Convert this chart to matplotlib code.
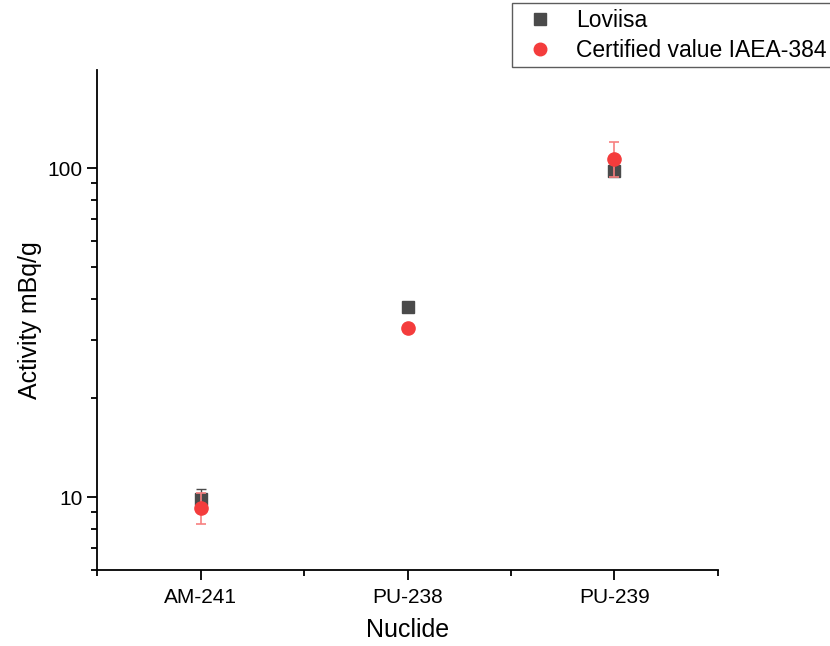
import numpy as np
import matplotlib
matplotlib.use('Agg')
import matplotlib.pyplot as plt
from matplotlib.ticker import FixedLocator, LogLocator, NullFormatter

plt.rcParams['font.family'] = ['Liberation Sans', 'DejaVu Sans']

nuclides = ['AM-241', 'PU-238', 'PU-239']
loviisa = [9.9, 37.9, 97.9]
loviisa_err = [0.65, 0.0, 0.0]
certified = [9.26, 32.6, 107.0]
certified_err = [1.0, 0.0, 13.0]

x = np.arange(1, len(nuclides) + 1)

fig = plt.figure(figsize=(8.3, 6.46), dpi=100)
ax = fig.add_axes([0.117, 0.1176, 0.748, 0.774])

eb1 = ax.errorbar(x, loviisa, yerr=loviisa_err, fmt='s', color='#4a4a4a', markersize=9.3,
                  ecolor='#4a4a4a', elinewidth=1, capsize=3.6, capthick=1, zorder=3)
eb2 = ax.errorbar(x, certified, yerr=certified_err, fmt='o', color='#f43c3c', markersize=9.5,
                  ecolor='#f78080', elinewidth=1.2, capsize=3.6, capthick=1.2, zorder=4)

ax.set_yscale('log')
ax.set_ylim(6, 199)
ax.set_xlim(0.5, 3.5)

ax.set_xticks(x)
ax.set_xticklabels(nuclides)
ax.xaxis.set_minor_locator(FixedLocator([0.5, 1.5, 2.5, 3.5]))
ax.set_yticks([10, 100])
ax.set_yticklabels(['10', '100'])
ax.yaxis.set_minor_locator(LogLocator(base=10, subs=np.arange(2, 10)))
ax.yaxis.set_minor_formatter(NullFormatter())

for s in ['top', 'right']:
    ax.spines[s].set_visible(False)
for s in ['left', 'bottom']:
    ax.spines[s].set_linewidth(1.3)

ax.tick_params(which='major', direction='out', length=7, width=1.3, labelsize=15)
ax.tick_params(which='minor', direction='out', length=4, width=1.3)
ax.tick_params(axis='x', pad=6)
ax.tick_params(axis='y', pad=3.5)

ax.set_xlabel('Nuclide', fontsize=18, labelpad=8)
ax.set_ylabel('Activity mBq/g', fontsize=18, labelpad=4)

leg = fig.legend([eb1[0], eb2[0]], ['Loviisa', 'Certified value IAEA-384'],
                 loc='upper left', bbox_to_anchor=(512 / 830, 1 - 3 / 646), fontsize=16.5,
                 frameon=True, fancybox=False, borderaxespad=0, handletextpad=0.65,
                 labelspacing=0.3, borderpad=0.25, handlelength=1.9, markerscale=0.95)
leg.get_frame().set_edgecolor('#333333')
leg.get_frame().set_linewidth(1.0)

fig.savefig('out.png', dpi=100)
